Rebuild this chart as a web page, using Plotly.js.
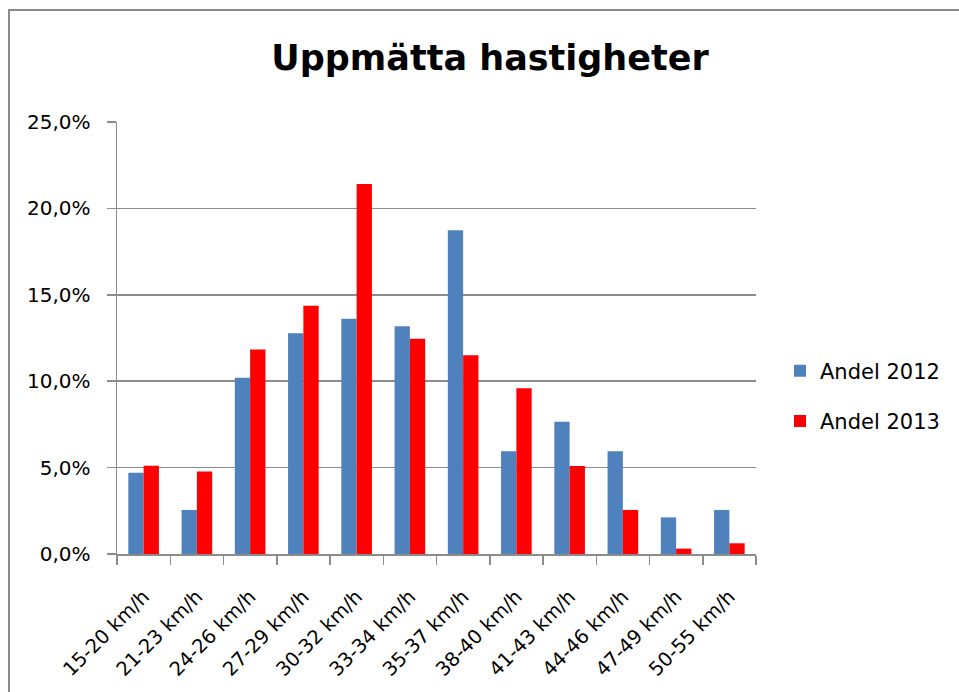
<!DOCTYPE html>
<html>
<head>
<meta charset="utf-8">
<script src="https://cdn.plot.ly/plotly-3.0.1.min.js"></script>
<style>
  html, body { margin: 0; padding: 0; background: #fff; }
  #wrap { position: relative; width: 959px; height: 692px; overflow: hidden; }
  #frame { position: absolute; left: 8px; top: 9px; width: 1000px; height: 1000px;
           border-left: 2px solid #8a8a8a; border-top: 2px solid #8a8a8a; pointer-events: none; }
  #chart { position: absolute; left: 0; top: 0; width: 959px; height: 692px; }
</style>
</head>
<body>
<div id="wrap">
  <div id="chart"></div>
  <div id="frame"></div>
</div>
<script>
const categories = ["15-20 km/h", "21-23 km/h", "24-26 km/h", "27-29 km/h", "30-32 km/h", "33-34 km/h",
                    "35-37 km/h", "38-40 km/h", "41-43 km/h", "44-46 km/h", "47-49 km/h", "50-55 km/h"];
const andel2012 = [4.7, 2.55, 10.2, 12.77, 13.62, 13.18, 18.73, 5.94, 7.66, 5.94, 2.12, 2.55];
const andel2013 = [5.1, 4.78, 11.83, 14.37, 21.41, 12.46, 11.5, 9.59, 5.09, 2.55, 0.31, 0.62];
const seriesNames = ["Andel 2012", "Andel 2013"];
const yTickVals = [0, 5, 10, 15, 20, 25];
const yTickText = ["0,0%", "5,0%", "10,0%", "15,0%", "20,0%", "25,0%"];
const titleText = "Uppmätta hastigheter";

const font = "DejaVu Sans, sans-serif";
const gridColor = "#8c8c8c";

const traces = [
  { type: "bar", name: seriesNames[0], x: categories, y: andel2012, legendgroup: "a",
    marker: { color: "#4f81bd", line: { width: 0 } }, hoverinfo: "x+y" },
  { type: "bar", name: seriesNames[1], x: categories, y: andel2013, legendgroup: "b",
    marker: { color: "#ff0000", line: { width: 0 } }, hoverinfo: "x+y" }
];

const layout = {
  width: 959, height: 692,
  paper_bgcolor: "rgba(0,0,0,0)", plot_bgcolor: "#fff",
  margin: { l: 117, r: 203, t: 122, b: 138 },
  barmode: "group", bargap: 0.425, bargroupgap: 0,
  title: { text: "<b>" + titleText + "</b>", font: { family: font, size: 35, color: "#000" },
           xref: "container", yref: "container", x: 0.511, xanchor: "center",
           y: 1 - 58 / 692, yanchor: "middle" },
  xaxis: {
    type: "category", tickangle: -45, tickson: "boundaries",
    ticks: "outside", ticklen: 9, tickcolor: gridColor, tickwidth: 1.5,
    showline: true, linecolor: gridColor, linewidth: 1.5,
    showgrid: false, tickfont: { family: font, size: 19.5, color: "#000" },
    ticklabelstandoff: 22,
    automargin: false
  },
  yaxis: {
    range: [0, 25], tickmode: "array", tickvals: yTickVals, ticktext: yTickText,
    ticks: "outside", ticklen: 9, tickcolor: gridColor, tickwidth: 1.5,
    showline: true, linecolor: gridColor, linewidth: 1.5,
    showgrid: true, gridcolor: gridColor, gridwidth: 1.5, zeroline: false,
    tickfont: { family: font, size: 20, color: "#000" }, ticklabelstandoff: 12,
    automargin: false
  },
  showlegend: true,
  legend: {
    xref: "container", yref: "container", x: 780 / 959, xanchor: "left",
    y: 1 - 396 / 692, yanchor: "middle",
    font: { family: font, size: 21, color: "#000" },
    traceorder: "grouped", tracegroupgap: 20, bgcolor: "rgba(0,0,0,0)"
  }
};

Plotly.newPlot("chart", traces, layout, { displayModeBar: false, staticPlot: true });
</script>
</body>
</html>
